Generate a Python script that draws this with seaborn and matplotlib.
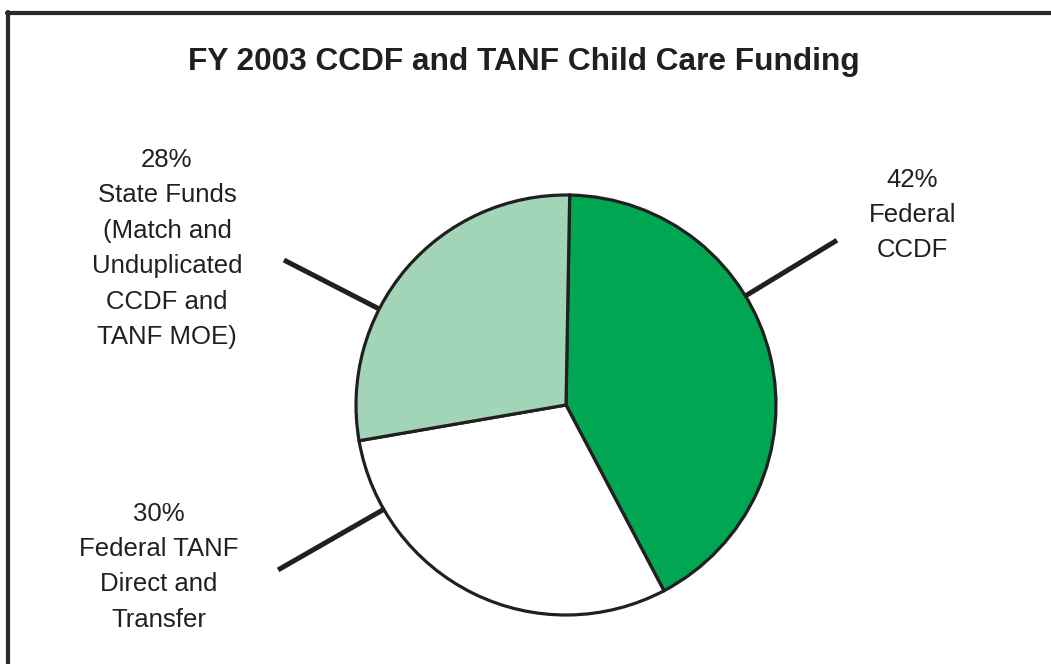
import numpy as np
import matplotlib
matplotlib.use("Agg")
import matplotlib.pyplot as plt
import seaborn as sns

# Funding shares (percent of FY 2003 child care funding)
segments = ["Federal CCDF", "Federal TANF Direct and Transfer",
            "State Funds (Match and Unduplicated CCDF and TANF MOE)"]
shares = [42, 30, 28]
label_texts = ["42%\nFederal\nCCDF",
               "30%\nFederal TANF\nDirect and\nTransfer",
               "28%\nState Funds\n(Match and\nUnduplicated\nCCDF and\nTANF MOE)"]
title = "FY 2003 CCDF and TANF Child Care Funding"

colors = ["#00a651", "#ffffff", "#a2d5b8"]
edge = "#231f20"

# leader line direction (degrees), outer length and label anchor, in pie-radius units
leader_angles = [31.3, 209.8, 152.8]
leader_lengths = [1.51, 1.58, 1.51]
label_pos = [(1.65, 0.905), (-1.94, -0.77), (-1.90, 0.745)]

sns.set_theme(style="white")
plt.rcParams["font.family"] = ["Liberation Sans", "DejaVu Sans"]

W, H, dpi = 1051, 664, 100
fig = plt.figure(figsize=(W / dpi, H / dpi), dpi=dpi)
ax = fig.add_axes([0, 0, 1, 1])

# pixel geometry of the pie: centre (566, 405), radius 210
cx, cy, r = 566, 405, 210

wedges, _ = ax.pie(shares, colors=colors, startangle=89, counterclock=False,
                   radius=1.0, center=(0, 0), frame=True,
                   wedgeprops=dict(edgecolor=edge, linewidth=2.3))
ax.set_xlim(-cx / r, (W - cx) / r)
ax.set_ylim(-(H - cy) / r, cy / r)
ax.set_aspect("auto")
ax.axis("off")

for ang, ln, txt, (tx, ty) in zip(leader_angles, leader_lengths, label_texts, label_pos):
    a = np.deg2rad(ang)
    ax.plot([np.cos(a), ln * np.cos(a)], [np.sin(a), ln * np.sin(a)],
            color=edge, lw=3.6, solid_capstyle="butt", zorder=0)
    ax.text(tx, ty, txt, ha="center", va="center", fontsize=18.5,
            color="#231f20", linespacing=1.6)

fig.text(524 / W, 1 - 62 / H, title, ha="center", va="center",
         fontsize=22.8, fontweight="bold", color="#231f20")

# open frame: top and left rules
fig.add_artist(plt.Line2D([7 / W, 1.0], [1 - 13 / H, 1 - 13 / H],
                          transform=fig.transFigure, color="#2a2a2a", lw=3))
fig.add_artist(plt.Line2D([8 / W, 8 / W], [0.0, 1 - 11.5 / H],
                          transform=fig.transFigure, color="#2a2a2a", lw=3))

fig.savefig("out.png", dpi=dpi, facecolor="white")
